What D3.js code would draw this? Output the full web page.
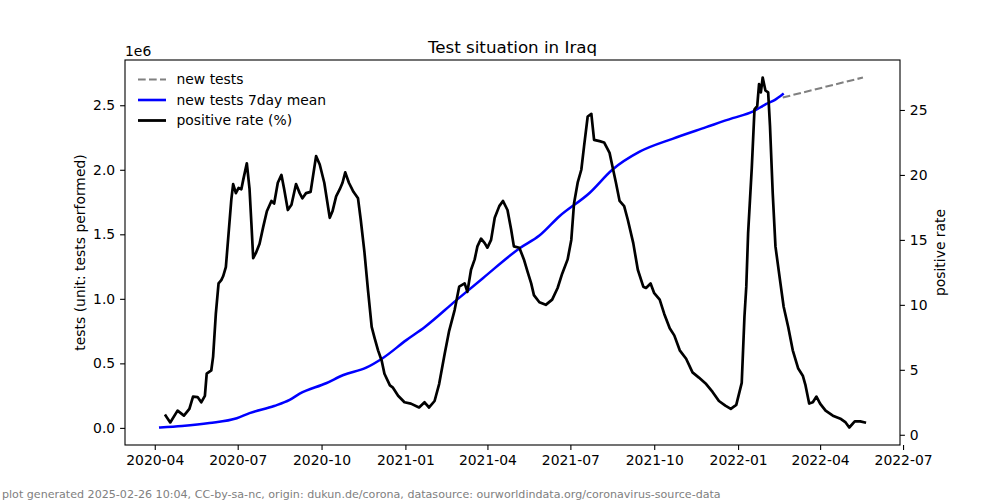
<!DOCTYPE html>
<html><head><meta charset="utf-8">
<script src="https://cdn.jsdelivr.net/npm/d3@7"></script>
<style>body{margin:0;background:#fff} svg{display:block} text{font-family:"DejaVu Sans",sans-serif}</style>
</head><body><svg id="c" width="1000" height="500"></svg>
<script>
const rateDates = ["2020-04-13","2020-04-18","2020-04-26","2020-05-03","2020-05-09","2020-05-13","2020-05-18","2020-05-22","2020-05-26","2020-05-28","2020-06-02","2020-06-04","2020-06-07","2020-06-10","2020-06-13","2020-06-15","2020-06-18","2020-06-21","2020-06-24","2020-06-26","2020-06-29","2020-07-02","2020-07-05","2020-07-07","2020-07-11","2020-07-14","2020-07-16","2020-07-18","2020-07-21","2020-07-25","2020-07-29","2020-08-02","2020-08-07","2020-08-10","2020-08-14","2020-08-18","2020-08-21","2020-08-25","2020-08-29","2020-09-03","2020-09-07","2020-09-10","2020-09-14","2020-09-19","2020-09-25","2020-09-29","2020-10-04","2020-10-10","2020-10-13","2020-10-17","2020-10-21","2020-10-24","2020-10-27","2020-10-31","2020-11-05","2020-11-10","2020-11-13","2020-11-17","2020-11-21","2020-11-25","2020-11-28","2020-12-02","2020-12-06","2020-12-09","2020-12-15","2020-12-18","2020-12-24","2020-12-31","2021-01-07","2021-01-16","2021-01-22","2021-01-27","2021-02-02","2021-02-07","2021-02-13","2021-02-18","2021-02-24","2021-03-01","2021-03-07","2021-03-10","2021-03-14","2021-03-18","2021-03-21","2021-03-25","2021-03-29","2021-04-01","2021-04-05","2021-04-09","2021-04-14","2021-04-18","2021-04-23","2021-04-27","2021-04-30","2021-05-06","2021-05-11","2021-05-15","2021-05-19","2021-05-22","2021-05-28","2021-06-04","2021-06-11","2021-06-17","2021-06-22","2021-06-28","2021-07-02","2021-07-05","2021-07-09","2021-07-13","2021-07-16","2021-07-20","2021-07-24","2021-07-27","2021-08-02","2021-08-07","2021-08-13","2021-08-16","2021-08-20","2021-08-24","2021-08-29","2021-09-02","2021-09-08","2021-09-13","2021-09-19","2021-09-22","2021-09-27","2021-10-01","2021-10-07","2021-10-12","2021-10-18","2021-10-23","2021-10-29","2021-11-05","2021-11-12","2021-11-19","2021-11-27","2021-12-04","2021-12-11","2021-12-18","2021-12-24","2021-12-30","2022-01-05","2022-01-08","2022-01-10","2022-01-12","2022-01-16","2022-01-19","2022-01-22","2022-01-24","2022-01-26","2022-01-28","2022-01-31","2022-02-03","2022-02-05","2022-02-08","2022-02-11","2022-02-16","2022-02-20","2022-02-25","2022-03-02","2022-03-08","2022-03-13","2022-03-16","2022-03-20","2022-03-24","2022-03-28","2022-04-01","2022-04-07","2022-04-15","2022-04-24","2022-04-29","2022-05-03","2022-05-09","2022-05-15","2022-05-20"];
const rateValues = [1.47,0.95,1.86,1.47,2.0,2.94,2.9,2.5,3.0,4.7,4.95,6.0,9.3,11.65,11.9,12.2,12.9,15.5,18.1,19.3,18.6,19.0,18.9,19.6,20.9,18.9,16.3,13.6,14.0,14.7,16.0,17.2,18.0,17.8,19.4,20.0,18.9,17.3,17.7,19.3,18.6,18.2,18.6,18.7,21.45,20.8,19.4,16.7,17.2,18.35,18.9,19.4,20.2,19.4,18.7,18.2,16.55,14.1,11.1,8.3,7.5,6.5,5.7,4.7,3.8,3.65,3.0,2.5,2.4,2.1,2.5,2.1,2.6,3.9,6.2,8.0,9.6,11.4,11.65,11.0,12.7,13.5,14.5,15.1,14.75,14.4,15.0,16.7,17.6,18.0,17.3,15.8,14.5,14.4,13.5,12.55,11.65,10.75,10.2,10.0,10.4,11.3,12.4,13.5,15.0,17.8,19.4,20.4,22.2,24.5,24.7,22.7,22.6,22.5,21.7,20.7,19.4,18.0,17.6,16.55,14.75,12.7,11.4,11.3,11.65,10.9,10.4,9.3,8.2,7.65,6.5,5.85,4.8,4.4,3.9,3.3,2.6,2.25,2.0,2.3,4.0,9.1,11.4,15.5,20.5,25.05,25.3,27.0,26.35,27.5,26.5,26.35,23.8,18.6,14.5,11.9,9.85,8.3,6.5,5.1,4.55,3.8,2.4,2.5,2.94,2.4,1.86,1.47,1.21,0.95,0.56,1.03,1.03,0.95];

const meanDates = ["2020-04-07","2020-05-01","2020-05-31","2020-06-30","2020-07-14","2020-08-10","2020-08-27","2020-09-07","2020-10-06","2020-10-25","2020-11-19","2020-12-07","2021-01-02","2021-01-22","2021-02-26","2021-03-27","2021-05-06","2021-05-28","2021-06-19","2021-07-22","2021-08-16","2021-09-15","2021-10-21","2021-11-27","2021-12-26","2022-01-17","2022-02-01","2022-02-10","2022-02-19"];
const meanValues = [3000,15000,38000,75000,114000,170000,217000,265000,346000,410000,467000,540000,680000,780000,990000,1160000,1390000,1490000,1640000,1820000,2000000,2140000,2240000,2330000,2400000,2450000,2510000,2540000,2585000];

const newTestsDates = ["2022-02-19","2022-05-18"];
const newTestsValues = [2560000,2715000];

const leftTicks = [0,500000,1000000,1500000,2000000,2500000];
const rightTicks = [0,5,10,15,20,25];
const xTickDates = ["2020-04-01","2020-07-01","2020-10-01","2021-01-01","2021-04-01","2021-07-01","2021-10-01","2022-01-01","2022-04-01","2022-07-01"];

const legendLabels = ["new tests","new tests 7day mean","positive rate (%)"];
const footer = "plot generated 2025-02-26 10:04, CC-by-sa-nc, origin: dukun.de/corona, datasource: ourworldindata.org/coronavirus-source-data";

const parse = d3.utcParse("%Y-%m-%d");
const rate = rateDates.map((d,i)=>({x:parse(d),y:rateValues[i]}));
const mean = meanDates.map((d,i)=>({x:parse(d),y:meanValues[i]}));
const nt = newTestsDates.map((d,i)=>({x:parse(d),y:newTestsValues[i]}));

const L=125,R=900,T=60,B=445;
function pad(ext){const r=ext[1]-ext[0];return [ext[0]-0.05*r, ext[1]+0.05*r];}

const allX = rate.concat(mean,nt).map(d=>d.x);
const xExt = d3.extent(allX);
const xs = d3.scaleUtc().domain(pad([+xExt[0],+xExt[1]]).map(v=>new Date(v))).range([L,R]);
const yL = d3.scaleLinear().domain(pad(d3.extent(mean.concat(nt),d=>d.y))).range([B,T]);
const yR = d3.scaleLinear().domain(pad(d3.extent(rate,d=>d.y))).range([B,T]);

const svg = d3.select("#c");
svg.append("rect").attr("width",1000).attr("height",500).attr("fill","#fff");

svg.append("clipPath").attr("id","clp").append("rect").attr("x",L).attr("y",T).attr("width",R-L).attr("height",B-T);
const plot = svg.append("g").attr("clip-path","url(#clp)");

const lineL = d3.line().x(d=>xs(d.x)).y(d=>yL(d.y));
const lineLs = d3.line().curve(d3.curveMonotoneX).x(d=>xs(d.x)).y(d=>yL(d.y));
const lineR = d3.line().x(d=>xs(d.x)).y(d=>yR(d.y));

plot.append("path").datum(nt).attr("d",lineL).attr("fill","none").attr("stroke","#808080").attr("stroke-width",2.08).attr("stroke-dasharray","7.7,3.3");
plot.append("path").datum(mean).attr("d",lineLs).attr("fill","none").attr("stroke","#0000ff").attr("stroke-width",2.5).attr("stroke-linejoin","round").attr("stroke-linecap","square");
plot.append("path").datum(rate).attr("d",lineR).attr("fill","none").attr("stroke","#000").attr("stroke-width",2.7).attr("stroke-linejoin","round").attr("stroke-linecap","square");

const fs = "13.9px";
const xAxis = d3.axisBottom(xs).tickValues(xTickDates.map(parse)).tickFormat(d3.utcFormat("%Y-%m")).tickSize(4.9).tickPadding(4.9);
const gx = svg.append("g").attr("transform",`translate(0,${B})`).call(xAxis);
const yAxisL = d3.axisLeft(yL).tickValues(leftTicks).tickFormat(d=>(d/1e6).toFixed(1)).tickSize(4.9).tickPadding(4.9);
const gyl = svg.append("g").attr("transform",`translate(${L},0)`).call(yAxisL);
const yAxisR = d3.axisRight(yR).tickValues(rightTicks).tickFormat(d3.format("d")).tickSize(4.9).tickPadding(4.9);
const gyr = svg.append("g").attr("transform",`translate(${R},0)`).call(yAxisR);
[gx,gyl,gyr].forEach(g=>{
  g.select(".domain").remove();
  g.selectAll("line").attr("stroke","#000").attr("stroke-width",1.1);
  g.selectAll("text").attr("font-family","DejaVu Sans").attr("font-size",fs).attr("fill","#000");
});
svg.append("rect").attr("x",L).attr("y",T).attr("width",R-L).attr("height",B-T).attr("fill","none").attr("stroke","#000").attr("stroke-width",1.1);

svg.append("text").attr("x",(L+R)/2).attr("y",53).attr("text-anchor","middle").attr("font-size","16.7px").text("Test situation in Iraq");
svg.append("text").attr("x",L).attr("y",56).attr("font-size",fs).text("1e6");
svg.append("text").attr("transform",`translate(85,${(T+B)/2}) rotate(-90)`).attr("text-anchor","middle").attr("font-size",fs).text("tests (unit: tests performed)");
svg.append("text").attr("transform",`translate(945,${(T+B)/2}) rotate(-90)`).attr("text-anchor","middle").attr("font-size",fs).text("positive rate");
svg.append("text").attr("x",2).attr("y",498).attr("font-size","11.1px").attr("fill","#808080").text(footer);

const lg = svg.append("g");
const styles = [{c:"#808080",w:2.08,da:"7.7,3.3"},{c:"#0000ff",w:2.6,da:null},{c:"#000",w:2.8,da:null}];
legendLabels.forEach((t,i)=>{
  const y = 79.5 + i*20.5;
  const ln = lg.append("line").attr("x1",138).attr("x2",166).attr("y1",y).attr("y2",y).attr("stroke",styles[i].c).attr("stroke-width",styles[i].w);
  if(styles[i].da) ln.attr("stroke-dasharray",styles[i].da);
  lg.append("text").attr("x",176.5).attr("y",y).attr("dy","0.35em").attr("font-size",fs).text(t);
});
</script></body></html>
